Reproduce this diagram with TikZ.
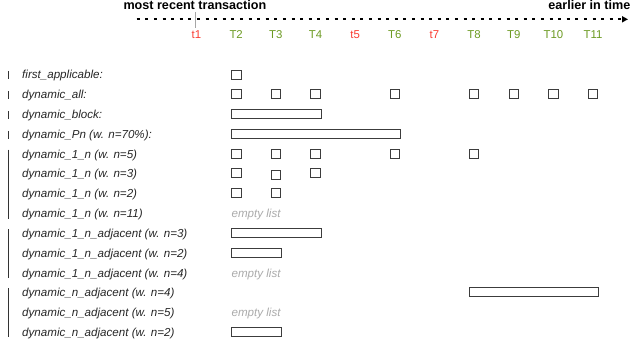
\documentclass[tikz,border=0pt]{standalone}
\usepackage{fontspec}
\setmainfont{Liberation Sans}
\usetikzlibrary{arrows.meta,calc}
\definecolor{tgreen}{RGB}{108,154,34}
\definecolor{tred}{RGB}{250,60,50}
\definecolor{boxline}{RGB}{60,60,60}
\definecolor{emptygray}{RGB}{170,170,170}
\begin{document}
\begin{tikzpicture}[x=1pt,y=-1pt,
  lbl/.style={anchor=base west,inner sep=0pt,font=\fontsize{11.6}{13}\selectfont\itshape,text=black!85},
  emptylbl/.style={anchor=base west,inner sep=0pt,font=\fontsize{11.6}{13}\selectfont\itshape,text=emptygray},
  collbl/.style={anchor=base,inner sep=0pt,font=\fontsize{11.4}{13}\selectfont},
  green/.style={collbl,text=tgreen},
  red/.style={collbl,text=tred},
  toplbl/.style={anchor=base west,inner sep=0pt,font=\fontsize{12.6}{14}\selectfont\bfseries},
  sq/.style={draw=boxline,line width=0.8pt,minimum width=9.5pt,minimum height=9pt,inner sep=0pt},
  barbox/.style={draw=boxline,line width=0.8pt,minimum height=9pt,inner sep=0pt,anchor=west},
  grp/.style={draw=black!80,line width=1pt},
  timeline/.style={line width=1.8pt,dash pattern=on 3pt off 5.6pt,-{Triangle[length=6pt,width=6pt]}},
]
\useasboundingbox (0,0) rectangle (631,347);
% columns
\foreach \i in {1,...,11} {\coordinate (x\i) at ({196.5+39.65*(\i-1)},0);}
% rows
\foreach \k in {1,...,14} {\coordinate (r\k) at (0,{75.5+19.8*(\k-1)});}

% timeline header
\node[toplbl] (mrt) at (123.3,9.3) {most recent transaction};
\node[toplbl,anchor=base east] (eit) at (630.5,9.3) {earlier in time};
\coordinate (tlstart) at (136.7,19.3);
\coordinate (tlend) at (628,19.3);
\draw[timeline] (tlstart) -- (tlend);
\coordinate (tickt) at (195,12);
\coordinate (tickb) at (195,28);
\draw[gray!70,line width=1pt] (tickt) -- (tickb);

% column labels
\node[red]   (c1)  at ($(x1)+(0,39)$)  {t1};
\node[green] (c2)  at ($(x2)+(0,39)$)  {T2};
\node[green] (c3)  at ($(x3)+(0,39)$)  {T3};
\node[green] (c4)  at ($(x4)+(0,39)$)  {T4};
\node[red]   (c5)  at ($(x5)+(0,39)$)  {t5};
\node[green] (c6)  at ($(x6)+(0,39)$)  {T6};
\node[red]   (c7)  at ($(x7)+(0,39)$)  {t7};
\node[green] (c8)  at ($(x8)+(0,39)$)  {T8};
\node[green] (c9)  at ($(x9)+(0,39)$)  {T9};
\node[green] (c10) at ($(x10)+(0,39)$) {T10};
\node[green] (c11) at ($(x11)+(0,39)$) {T11};

% row labels
\node[lbl] (l1)  at ($(r1)+(22,3.5)$)  {first\_applicable:};
\node[lbl] (l2)  at ($(r2)+(22,3.5)$)  {dynamic\_all:};
\node[lbl] (l3)  at ($(r3)+(22,3.5)$)  {dynamic\_block:};
\node[lbl] (l4)  at ($(r4)+(22,3.5)$)  {dynamic\_Pn (w. n=70\%):};
\node[lbl] (l5)  at ($(r5)+(22,3.5)$)  {dynamic\_1\_n (w. n=5)};
\node[lbl] (l6)  at ($(r6)+(22,3.5)$)  {dynamic\_1\_n (w. n=3)};
\node[lbl] (l7)  at ($(r7)+(22,3.5)$)  {dynamic\_1\_n (w. n=2)};
\node[lbl] (l8)  at ($(r8)+(22,3.5)$)  {dynamic\_1\_n (w. n=11)};
\node[lbl] (l9)  at ($(r9)+(22,3.5)$)  {dynamic\_1\_n\_adjacent (w. n=3)};
\node[lbl] (l10) at ($(r10)+(22,3.5)$) {dynamic\_1\_n\_adjacent (w. n=2)};
\node[lbl] (l11) at ($(r11)+(22,3.5)$) {dynamic\_1\_n\_adjacent (w. n=4)};
\node[lbl] (l12) at ($(r12)+(22,3.5)$) {dynamic\_n\_adjacent (w. n=4)};
\node[lbl] (l13) at ($(r13)+(22,3.5)$) {dynamic\_n\_adjacent (w. n=5)};
\node[lbl] (l14) at ($(r14)+(22,3.5)$) {dynamic\_n\_adjacent (w. n=2)};

% left group bars
\foreach \k in {1,2,3,4} {\draw[grp] ($(r\k)+(8,-4)$) -- ($(r\k)+(8,4)$);}
\draw[grp] ($(r5)+(8,-5)$) -- ($(r8)+(8,4.5)$);
\draw[grp] ($(r9)+(8,-5)$) -- ($(r11)+(8,4.5)$);
\draw[grp] ($(r12)+(8,-5)$) -- ($(r14)+(8,4.5)$);

% row 1: first_applicable
\node[sq] (b1-2) at ($(x2|-r1)+(0,-1)$) {};
% row 2: dynamic_all
\foreach \i in {2,3,4,6,8,9,10,11} {\node[sq] (b2-\i) at ($(x\i|-r2)+(0,-1)$) {};}
% row 3: dynamic_block
\node[barbox,minimum width=89.5pt] (bar3) at ($(x2|-r3)+(-4.75,-1)$) {};
% row 4: dynamic_Pn
\node[barbox,minimum width=168.8pt] (bar4) at ($(x2|-r4)+(-4.75,-1)$) {};
% row 5: dynamic_1_n n=5
\foreach \i in {2,3,4,6,8} {\node[sq] (b5-\i) at ($(x\i|-r5)+(0,-1)$) {};}
% row 6: dynamic_1_n n=3
\node[sq] (b6-2) at ($(x2|-r6)+(0,-1.5)$) {};
\node[sq] (b6-3) at ($(x3|-r6)+(0,0.3)$) {};
\node[sq] (b6-4) at ($(x4|-r6)+(0,-1.5)$) {};
% row 7: dynamic_1_n n=2
\foreach \i in {2,3} {\node[sq] (b7-\i) at ($(x\i|-r7)+(0,-1.5)$) {};}
% row 8: empty
\node[emptylbl] (e8) at ($(x2|-r8)+(-4.75,3.5)$) {empty list};
% row 9
\node[barbox,minimum width=89.5pt] (bar9) at ($(x2|-r9)+(-4.75,-1)$) {};
% row 10
\node[barbox,minimum width=50pt] (bar10) at ($(x2|-r10)+(-4.75,-1)$) {};
% row 11
\node[emptylbl] (e11) at ($(x2|-r11)+(-4.75,3.5)$) {empty list};
% row 12
\node[barbox,minimum width=128.5pt] (bar12) at ($(x8|-r12)+(-4.75,-1)$) {};
% row 13
\node[emptylbl] (e13) at ($(x2|-r13)+(-4.75,3.5)$) {empty list};
% row 14
\node[barbox,minimum width=50pt] (bar14) at ($(x2|-r14)+(-4.75,-1)$) {};
\end{tikzpicture}
\end{document}
